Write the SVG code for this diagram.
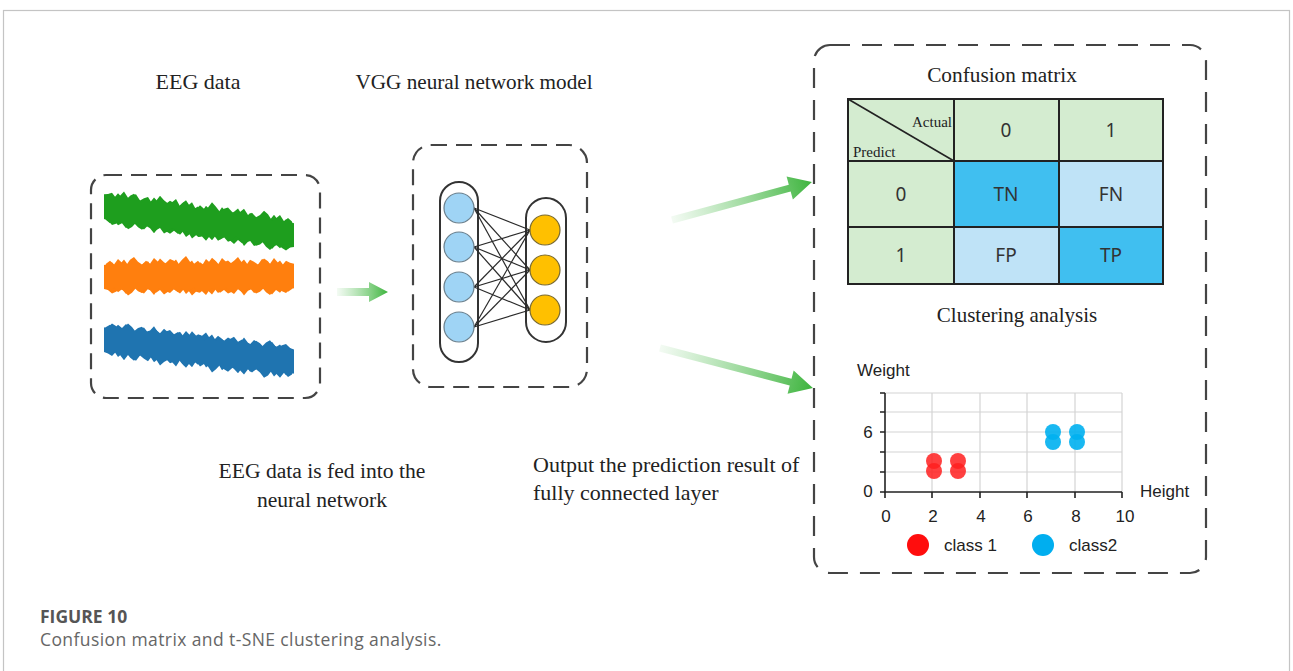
<svg xmlns="http://www.w3.org/2000/svg" xmlns:xlink="http://www.w3.org/1999/xlink" width="1293" height="671" viewBox="0 0 1293 671">
  <style>
    .serif { font-family: "Liberation Serif", "Times New Roman", serif; fill: #222; }
    .sans { font-family: "Liberation Sans", Arial, sans-serif; fill: #222; }
    .cell { font-family: "Noto Sans", "Open Sans", sans-serif; font-size: 19px; fill: #333; text-anchor: middle; }
    .dash { fill: none; stroke: #444; stroke-width: 2.2; stroke-dasharray: 16 9; }
    .dashbig { fill: none; stroke: #444; stroke-width: 2.2; stroke-dasharray: 20 12; }
    .pill { fill: #fff; stroke: #333; stroke-width: 2; }
    .in { fill: #9fd4f5; stroke: #6a7f8c; stroke-width: 1.2; }
    .out { fill: #ffc000; stroke: #7a6a30; stroke-width: 1.2; }
    .edge { stroke: #2a2a2a; stroke-width: 1.2; }
    .grid { stroke: #d4d4d4; stroke-width: 1.2; }
    .axis { stroke: #222; stroke-width: 1.6; fill: none; }
    .mtx { stroke: #222; stroke-width: 2; }
    .caption { font-family: "Open Sans", "Noto Sans", sans-serif; font-size: 17.5px; }
  </style>
  <defs>
    <linearGradient id="fade" x1="0" y1="0" x2="1" y2="0">
      <stop offset="0" stop-color="#6cc86c" stop-opacity="0.08"/>
      <stop offset="1" stop-color="#3db43d" stop-opacity="1"/>
    </linearGradient>
    <!-- noisy signal band, 188 px long, centred on y = 0 -->
    <polygon id="band" points="0,-13 4,-16 8,-12 12,-18 16,-14 20,-11 24,-17 28,-20 32,-15 36,-12 40,-16 44,-13 48,-19 52,-15 56,-11 60,-14 64,-18 68,-16 72,-12 76,-17 80,-21 84,-15 88,-13 92,-16 96,-11 100,-18 104,-14 108,-17 112,-12 116,-19 120,-15 124,-13 128,-16 132,-20 136,-14 140,-11 144,-17 148,-15 152,-12 156,-18 160,-16 164,-13 168,-19 172,-14 176,-11 180,-16 184,-14 188,-13 188,13 184,14 180,18 176,16 172,13 168,15 164,20 160,17 156,12 152,16 148,18 144,13 140,15 136,17 132,14 128,19 124,16 120,12 116,15 112,18 108,13 104,14 100,20 96,16 92,17 88,12 84,15 80,19 76,13 72,17 68,14 64,18 60,16 56,11 52,14 48,20 44,15 40,13 36,18 32,16 28,12 24,15 20,19 16,14 12,17 8,12 4,16 0,13"/>
    <!-- two interleaved copies give a denser, more irregular trace -->
    <g id="wave">
      <use xlink:href="#band" transform="translate(0,1) scale(1,0.92)"/>
      <use xlink:href="#band" transform="translate(186,0) scale(-1,0.95)"/>
    </g>
  </defs>

  <!-- page frame -->
  <rect x="3.5" y="10.5" width="1286" height="700" fill="none" stroke="#c4c4c4" stroke-width="1.2"/>

  <!-- EEG input -->
  <g id="eeg">
    <text class="serif" x="198" y="89" font-size="22" text-anchor="middle">EEG data</text>
    <rect class="dash" x="91" y="175" width="229" height="223" rx="15"/>
    <use xlink:href="#wave" fill="#1e9e1e" transform="translate(106,207) skewY(8.2)"/>
    <use xlink:href="#wave" fill="#ff7f0e" transform="translate(292,276) scale(-1,1)"/>
    <use xlink:href="#wave" fill="#1f74b0" transform="translate(106,340) skewY(6.8) scale(1,-1)"/>
    <text class="serif" x="322" y="478" font-size="21.6" text-anchor="middle">EEG data is fed into the</text>
    <text class="serif" x="322" y="507" font-size="21.6" text-anchor="middle">neural network</text>
  </g>

  <!-- VGG network -->
  <g id="vgg">
    <text class="serif" x="474" y="89" font-size="21.2" text-anchor="middle">VGG neural network model</text>
    <rect class="dash" x="413" y="145" width="174" height="242" rx="18"/>
    <rect class="pill" x="440" y="182" width="38" height="180" rx="19"/>
    <rect class="pill" x="526" y="198" width="40" height="144" rx="20"/>
    <g class="edge">
      <line x1="474" y1="208" x2="530" y2="230"/><line x1="474" y1="208" x2="530" y2="270"/><line x1="474" y1="208" x2="530" y2="310"/>
      <line x1="474" y1="247" x2="530" y2="230"/><line x1="474" y1="247" x2="530" y2="270"/><line x1="474" y1="247" x2="530" y2="310"/>
      <line x1="474" y1="287" x2="530" y2="230"/><line x1="474" y1="287" x2="530" y2="270"/><line x1="474" y1="287" x2="530" y2="310"/>
      <line x1="474" y1="327" x2="530" y2="230"/><line x1="474" y1="327" x2="530" y2="270"/><line x1="474" y1="327" x2="530" y2="310"/>
    </g>
    <circle class="in" cx="459" cy="208" r="15"/>
    <circle class="in" cx="459" cy="247" r="15"/>
    <circle class="in" cx="459" cy="287" r="15"/>
    <circle class="in" cx="459" cy="327" r="15"/>
    <circle class="out" cx="545" cy="230" r="15"/>
    <circle class="out" cx="545" cy="270" r="15"/>
    <circle class="out" cx="545" cy="310" r="15"/>
    <text class="serif" x="533" y="472" font-size="22">Output the prediction result of</text>
    <text class="serif" x="533" y="500" font-size="22">fully connected layer</text>
  </g>

  <!-- arrows -->
  <g id="connectors" fill="url(#fade)">
    <polygon transform="translate(337,292)" points="0,-4 32,-4 32,-10 51,0 32,10 32,4 0,4"/>
    <polygon transform="translate(672,220) rotate(-15.2)" points="0,-3.5 122,-3.5 122,-12 145,0 122,12 122,3.5 0,3.5"/>
    <polygon transform="translate(660,348) rotate(14.65)" points="0,-3.5 135,-3.5 135,-12 158,0 135,12 135,3.5 0,3.5"/>
  </g>

  <!-- results panel -->
  <g id="results">
    <rect class="dashbig" x="814" y="45" width="392" height="528" rx="16"/>
    <text class="serif" x="1002" y="82" font-size="21.3" text-anchor="middle">Confusion matrix</text>
    <text class="serif" x="1017" y="322" font-size="21" text-anchor="middle">Clustering analysis</text>
  </g>

  <g id="confusion-matrix">
    <rect x="848" y="99" width="106" height="62" fill="#d4ecd0"/>
    <rect x="954" y="99" width="105" height="62" fill="#d4ecd0"/>
    <rect x="1059" y="99" width="104" height="62" fill="#d4ecd0"/>
    <rect x="848" y="161" width="106" height="66" fill="#d4ecd0"/>
    <rect x="954" y="161" width="105" height="66" fill="#40bff0"/>
    <rect x="1059" y="161" width="104" height="66" fill="#bfe3f7"/>
    <rect x="848" y="227" width="106" height="57" fill="#d4ecd0"/>
    <rect x="954" y="227" width="105" height="57" fill="#bfe3f7"/>
    <rect x="1059" y="227" width="104" height="57" fill="#40bff0"/>
    <g class="mtx">
      <rect x="848" y="99" width="315" height="185" fill="none"/>
      <line x1="954" y1="99" x2="954" y2="284"/>
      <line x1="1059" y1="99" x2="1059" y2="284"/>
      <line x1="848" y1="161" x2="1163" y2="161"/>
      <line x1="848" y1="227" x2="1163" y2="227"/>
      <line x1="848" y1="99" x2="954" y2="161" stroke-width="1.6"/>
    </g>
    <text class="serif" x="912" y="127" font-size="15">Actual</text>
    <text class="serif" x="853" y="157" font-size="15">Predict</text>
    <text class="cell" x="1006" y="137">0</text>
    <text class="cell" x="1111" y="137">1</text>
    <text class="cell" x="901" y="201">0</text>
    <text class="cell" x="1006" y="201">TN</text>
    <text class="cell" x="1111" y="201">FN</text>
    <text class="cell" x="901" y="262">1</text>
    <text class="cell" x="1006" y="262">FP</text>
    <text class="cell" x="1111" y="262">TP</text>
  </g>

  <g id="scatter">
    <g class="grid">
      <line x1="885" y1="393" x2="1122" y2="393"/>
      <line x1="885" y1="412" x2="1122" y2="412"/>
      <line x1="885" y1="432" x2="1122" y2="432"/>
      <line x1="885" y1="452" x2="1122" y2="452"/>
      <line x1="885" y1="472" x2="1122" y2="472"/>
      <line x1="932" y1="393" x2="932" y2="492"/>
      <line x1="980" y1="393" x2="980" y2="492"/>
      <line x1="1027" y1="393" x2="1027" y2="492"/>
      <line x1="1075" y1="393" x2="1075" y2="492"/>
      <line x1="1122" y1="393" x2="1122" y2="492"/>
    </g>
    <path class="axis" d="M885,393 V492 H1122"/>
    <path class="axis" d="M880,393 H885 M880,412 H885 M880,432 H885 M880,452 H885 M880,472 H885 M880,492 H885 M885,492 V498 M932,492 V498 M980,492 V498 M1027,492 V498 M1075,492 V498 M1122,492 V498"/>
    <g fill="#ff1f1f" fill-opacity="0.85">
      <circle cx="934" cy="461" r="8"/><circle cx="934" cy="471" r="8"/>
      <circle cx="958" cy="461" r="8"/><circle cx="958" cy="471" r="8"/>
    </g>
    <g fill="#00b0f0" fill-opacity="0.9">
      <circle cx="1053" cy="432" r="8"/><circle cx="1053" cy="442" r="8"/>
      <circle cx="1077" cy="432" r="8"/><circle cx="1077" cy="442" r="8"/>
    </g>
    <text class="sans" x="857" y="376" font-size="17">Weight</text>
    <text class="sans" x="868" y="438" font-size="17" text-anchor="middle">6</text>
    <text class="sans" x="868" y="497" font-size="17" text-anchor="middle">0</text>
    <text class="sans" x="1140" y="497" font-size="17">Height</text>
    <g class="sans" font-size="17" text-anchor="middle">
      <text x="886" y="522">0</text>
      <text x="933" y="522">2</text>
      <text x="981" y="522">4</text>
      <text x="1028" y="522">6</text>
      <text x="1076" y="522">8</text>
      <text x="1125" y="522">10</text>
    </g>
    <circle cx="918" cy="545" r="11" fill="#ff0d0d"/>
    <text class="sans" x="944" y="551" font-size="17">class 1</text>
    <circle cx="1043" cy="545" r="11" fill="#00aeef"/>
    <text class="sans" x="1069" y="551" font-size="17">class2</text>
  </g>

  <!-- caption -->
  <text class="caption" x="40" y="623" font-weight="bold" fill="#555">FIGURE 10</text>
  <text class="caption" x="40" y="646" fill="#666" letter-spacing="0.4">Confusion matrix and t-SNE clustering analysis.</text>
</svg>
